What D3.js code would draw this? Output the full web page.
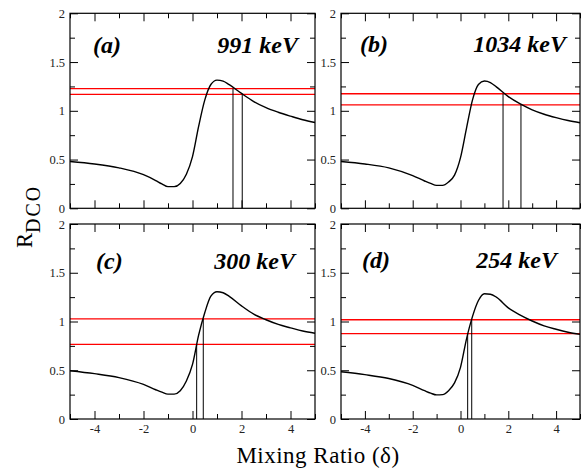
<!DOCTYPE html>
<html>
<head>
<meta charset="utf-8">
<script src="https://cdn.jsdelivr.net/npm/d3@7"></script>
<style>
  body { margin: 0; background: #fff; }
  svg text { font-family: "Liberation Serif", "Times New Roman", Times, serif; }
</style>
</head>
<body>
<div id="chart"></div>
<script>
// mixing ratio grid shared by all panels
const deltaGrid = [-5, -4, -3, -2, -1.5, -1.25, -1, -0.75, -0.5, -0.25, 0, 0.25, 0.5, 0.75, 1, 1.25, 1.5, 2, 2.5, 3, 3.5, 4, 4.5, 5];

// R_DCO
const curveA = [0.48, 0.455, 0.415, 0.345, 0.285, 0.25, 0.222, 0.222, 0.255, 0.35, 0.53, 0.84, 1.11, 1.27, 1.315, 1.305, 1.268, 1.178, 1.095, 1.032, 0.985, 0.945, 0.908, 0.88];
const curveB = [0.48, 0.455, 0.415, 0.335, 0.28, 0.255, 0.235, 0.235, 0.27, 0.34, 0.52, 0.82, 1.11, 1.27, 1.305, 1.29, 1.245, 1.145, 1.07, 1.01, 0.965, 0.93, 0.9, 0.878];
const curveC = [0.495, 0.465, 0.425, 0.355, 0.3, 0.275, 0.255, 0.255, 0.29, 0.39, 0.56, 0.86, 1.09, 1.26, 1.305, 1.295, 1.258, 1.16, 1.075, 1.018, 0.97, 0.935, 0.902, 0.879];
const curveD = [0.485, 0.455, 0.415, 0.345, 0.29, 0.265, 0.247, 0.25, 0.29, 0.37, 0.53, 0.82, 1.05, 1.215, 1.285, 1.28, 1.25, 1.14, 1.065, 1.005, 0.955, 0.92, 0.89, 0.868];

const panelTags = ['(a)', '(b)', '(c)', '(d)'];
const energies = ['991 keV', '1034 keV', '300 keV', '254 keV'];

// experimental R_DCO limits (red) and where they cut the curve
const redLevels = [[1.227, 1.169], [1.175, 1.06], [1.026, 0.766], [1.018, 0.875]];
const crossDeltas = [[1.653, 2.03], [1.78, 2.53], [0.17, 0.44], [0.30, 0.47]];
const crossTops = [[1.227, 1.169], [1.175, 1.06], [0.766, 1.026], [0.875, 1.018]];

const xMajor = [-4, -2, 0, 2, 4];
const xMinor = [-5, -3, -1, 1, 3, 5];
const yMajor = [0, 0.5, 1, 1.5, 2];
const yMinor = [0.25, 0.75, 1.25, 1.75];

const curves = [curveA, curveB, curveC, curveD];
const SERIF = '"Liberation Serif", "Times New Roman", Times, serif';

// panel boxes
const frames = [
  { x: 70, y: 13.3, w: 245, h: 195, tagX: 23, tagY: 39.5, enX: 17 },
  { x: 341, y: 13.3, w: 239, h: 195, tagX: 19, tagY: 39, enX: 14 },
  { x: 70, y: 224, w: 245, h: 195, tagX: 26, tagY: 45, enX: 20 },
  { x: 341, y: 224, w: 239, h: 195, tagX: 21, tagY: 44, enX: 23 },
];

const svg = d3.select('#chart').append('svg')
  .attr('width', 582).attr('height', 470)
  .attr('font-family', SERIF);

frames.forEach((f, i) => {
  const g = svg.append('g').attr('transform', `translate(${f.x},${f.y})`);
  const x = d3.scaleLinear().domain([-5, 5]).range([0, f.w]);
  const y = d3.scaleLinear().domain([0, 2]).range([f.h, 0]);
  const bottomRow = i >= 2;

  // ticks, all pointing inward
  const tickAxes = [
    [d3.axisBottom(x), `translate(0,${f.h})`, xMajor, xMinor, bottomRow],
    [d3.axisTop(x), 'translate(0,0)', xMajor, xMinor, false],
    [d3.axisLeft(y), 'translate(0,0)', yMajor, yMinor, true],
    [d3.axisRight(y), `translate(${f.w},0)`, yMajor, yMinor, false],
  ];
  tickAxes.forEach(([ax, tr, major, minor, labels]) => {
    const a = g.append('g').attr('transform', tr)
      .call(ax.tickValues(major).tickSize(-8).tickPadding(labels ? 5 : 0)
        .tickFormat(labels ? d => String(d) : ''));
    a.attr('font-family', SERIF).attr('font-size', 12.5);
    a.select('.domain').remove();
    a.selectAll('text').attr('fill', '#222');
    const m = g.append('g').attr('transform', tr)
      .call(ax.tickValues(minor).tickSize(-5).tickFormat(''));
    m.select('.domain').remove();
  });
  g.selectAll('.tick line').attr('stroke', '#000').attr('stroke-width', 1);

  // red limits
  redLevels[i].forEach(v => {
    g.append('line')
      .attr('x1', x(-5)).attr('x2', x(5))
      .attr('y1', y(v)).attr('y2', y(v))
      .attr('stroke', '#f00').attr('stroke-width', 1.3);
  });

  // drop lines
  crossDeltas[i].forEach((d, k) => {
    g.append('line')
      .attr('x1', x(d)).attr('x2', x(d))
      .attr('y1', y(0)).attr('y2', y(crossTops[i][k]))
      .attr('stroke', '#000').attr('stroke-width', 1);
  });

  const pts = deltaGrid.map((d, k) => [d, curves[i][k]]);
  g.append('path')
    .datum(pts)
    .attr('fill', 'none')
    .attr('stroke', '#000')
    .attr('stroke-width', 1.4)
    .attr('d', d3.line().x(d => x(d[0])).y(d => y(d[1])).curve(d3.curveMonotoneX));

  g.append('rect')
    .attr('width', f.w).attr('height', f.h)
    .attr('fill', 'none').attr('stroke', '#000').attr('stroke-width', 1.2);

  g.append('text')
    .attr('x', f.tagX).attr('y', f.tagY)
    .attr('font-size', 24).attr('font-weight', 'bold').attr('font-style', 'italic')
    .text(panelTags[i]);

  g.append('text')
    .attr('x', f.w - f.enX).attr('y', f.tagY)
    .attr('text-anchor', 'end')
    .attr('font-size', 24).attr('font-weight', 'bold').attr('font-style', 'italic')
    .text(energies[i]);
});

// axis titles
svg.append('text')
  .attr('x', 318).attr('y', 463)
  .attr('text-anchor', 'middle')
  .attr('font-size', 23)
  .attr('letter-spacing', 0.5)
  .text('Mixing Ratio (δ)');

const yt = svg.append('text')
  .attr('transform', 'translate(32,248) rotate(-90)')
  .attr('font-size', 22.5);
yt.append('tspan').text('R');
yt.append('tspan').attr('dy', 8).attr('font-size', 20).attr('letter-spacing', 2).text('DCO');
</script>
</body>
</html>
